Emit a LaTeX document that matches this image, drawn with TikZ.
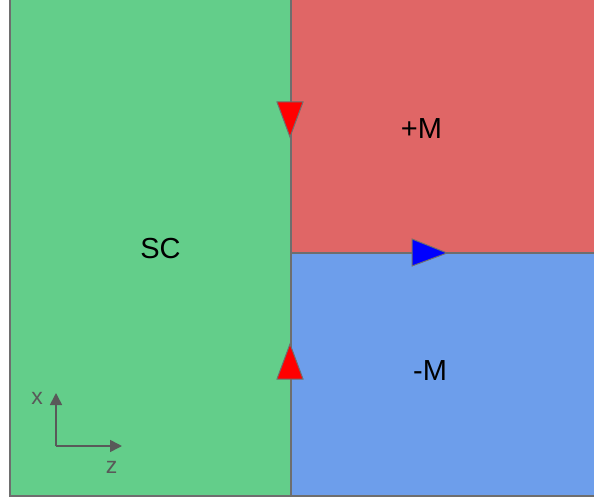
\documentclass[tikz,border=0pt]{standalone}
\usepackage{fontspec}
\setmainfont{Liberation Sans}
\usetikzlibrary{arrows.meta}
\definecolor{scgreen}{HTML}{63CE8A}
\definecolor{mred}{HTML}{E06666}
\definecolor{mblue}{HTML}{6D9EEB}
\definecolor{edge}{HTML}{6E6E6E}
\definecolor{axisgray}{HTML}{595959}
\tikzset{
  region/.style={draw=edge, line width=1.5pt},
  label/.style={font=\fontsize{29}{29}\selectfont, text=black, inner sep=0pt},
  axislabel/.style={font=\fontsize{23}{23}\selectfont, text=axisgray, inner sep=0pt},
  axis/.style={draw=axisgray, line width=1.6pt, -{Triangle[length=12pt, width=12pt]}},
  flux/.style={draw=edge, line width=1pt, line join=miter}
}
\begin{document}
\begin{tikzpicture}[x=1pt, y=1pt]
  \useasboundingbox (0,0) rectangle (594,499);
  \begin{scope}
    \clip (0,0) rectangle (594,499);
    % regions
    \draw[region, fill=scgreen] (10,3) rectangle (291,502);
    \draw[region, fill=mred] (291,246) rectangle (598,502);
    \draw[region, fill=mblue] (291,3) rectangle (598,246);
  \end{scope}
  \node[label] (sc) at (160.5,250.5) {SC};
  \node[label] (pm) at (421.5,370) {+M};
  \node[label] (mm) at (430,128) {-M};
  % current arrows on the boundaries
  \filldraw[flux, fill=red] (277,397) -- (303,397) -- (290,362) -- cycle;
  \filldraw[flux, fill=red] (277,120) -- (303,120) -- (290,155) -- cycle;
  \filldraw[flux, fill=blue] (412,260) -- (412,233) -- (447,246) -- cycle;
  % coordinate axes
  \coordinate (o) at (56,53);
  \coordinate (xt) at (56,106);
  \coordinate (zt) at (122,53);
  \draw[axis] (o) -- (xt);
  \draw[axis] (o) -- (zt);
  \node[axislabel] (xl) at (37,100.5) {x};
  \node[axislabel] (zl) at (111.5,32) {z};
\end{tikzpicture}
\end{document}
